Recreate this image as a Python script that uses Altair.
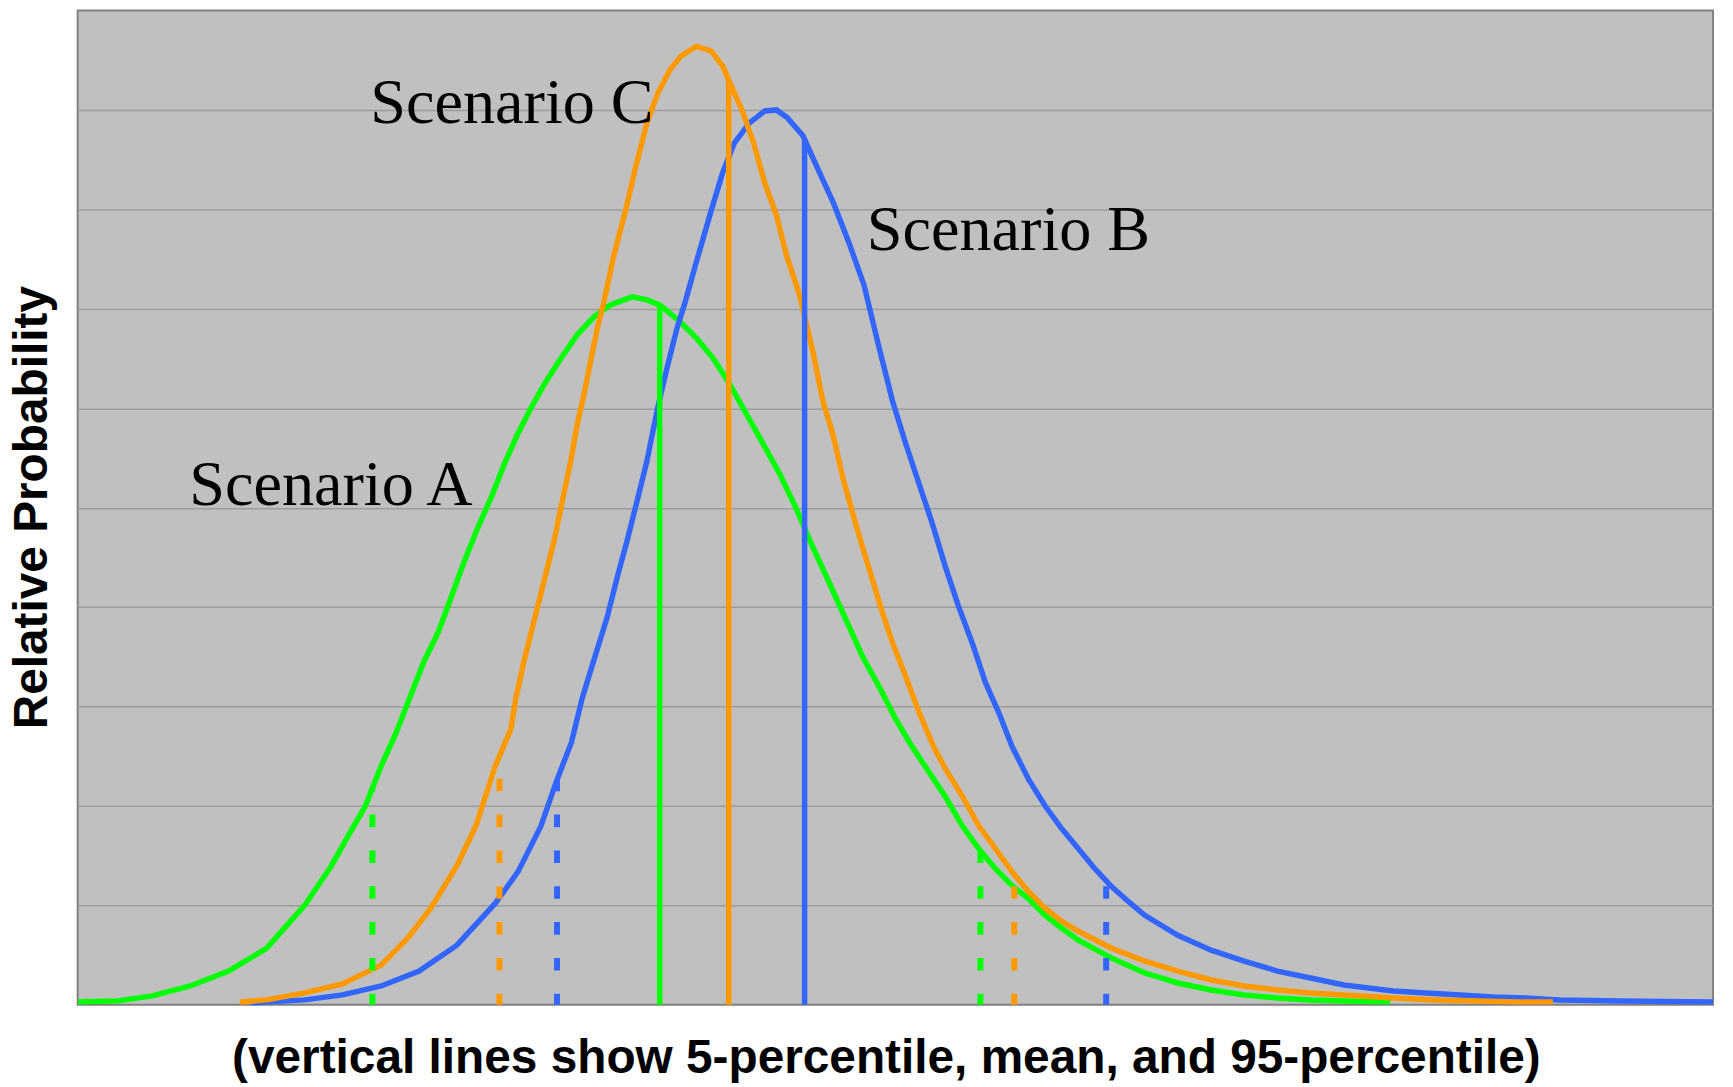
import altair as alt
import pandas as pd

# ---- curve data (x in arbitrary units 0-100, y relative probability 0-10) ----
A_x = [0.03, 2.47, 4.56, 6.88, 9.23, 11.56, 13.88, 15.52, 16.68, 17.59, 18.55, 19.48, 20.31, 21.22,
       22.03, 22.84, 23.66, 24.47, 25.28, 26.09, 26.90, 27.71, 28.53, 29.54, 30.55, 31.57, 32.58,
       33.90, 34.81, 35.59, 36.84, 37.86, 38.87, 39.88, 40.90, 41.92, 42.93, 43.94, 44.96, 45.97,
       46.99, 48.00, 49.01, 50.03, 51.05, 53.07, 54.09, 55.10, 56.12, 57.13, 58.14, 59.16, 60.18,
       61.19, 63.22, 65.25, 67.27, 69.31, 71.33, 73.36, 75.39, 77.42, 80.26]
A_y = [0.03, 0.04, 0.09, 0.19, 0.34, 0.57, 1.00, 1.40, 1.74, 2.00, 2.40, 2.74, 3.09, 3.47,
       3.74, 4.10, 4.47, 4.80, 5.10, 5.44, 5.74, 6.00, 6.24, 6.50, 6.74, 6.92, 7.04,
       7.12, 7.09, 7.04, 6.87, 6.70, 6.50, 6.24, 5.94, 5.64, 5.34, 4.99, 4.60, 4.24,
       3.87, 3.50, 3.20, 2.87, 2.59, 2.09, 1.80, 1.57, 1.37, 1.20, 1.07, 0.90, 0.77,
       0.65, 0.47, 0.32, 0.22, 0.15, 0.10, 0.07, 0.05, 0.04, 0.03]

B_x = [10.63, 13.88, 16.19, 18.56, 20.88, 23.19, 25.53, 26.93, 28.33, 29.26, 30.19, 30.86, 31.57,
       32.38, 32.99, 33.60, 34.21, 34.81, 35.42, 36.03, 36.64, 37.15, 37.83, 38.76, 39.44, 40.16,
       41.08, 42.02, 42.73, 43.40, 44.35, 45.28, 46.20, 47.15, 48.08, 48.99, 49.83, 50.64, 51.45,
       52.26, 53.07, 53.88, 54.70, 55.51, 56.32, 57.13, 58.14, 59.16, 60.18, 61.19, 62.20, 63.22,
       64.24, 65.25, 67.27, 69.31, 71.33, 73.36, 75.39, 77.42, 80.46, 82.47, 84.52, 86.55, 88.56,
       90.61, 94.26, 100.0]
B_y = [0.02, 0.05, 0.10, 0.19, 0.34, 0.60, 1.02, 1.34, 1.80, 2.24, 2.64, 3.09, 3.47,
       3.90, 4.30, 4.67, 5.07, 5.47, 5.97, 6.40, 6.80, 7.07, 7.47, 8.00, 8.37, 8.67,
       8.87, 8.99, 9.00, 8.92, 8.74, 8.40, 8.07, 7.67, 7.24, 6.62, 6.07, 5.64, 5.24,
       4.84, 4.40, 4.00, 3.64, 3.24, 2.94, 2.60, 2.27, 2.00, 1.77, 1.57, 1.37, 1.19,
       1.04, 0.90, 0.70, 0.55, 0.44, 0.34, 0.27, 0.20, 0.14, 0.12, 0.10, 0.08, 0.07,
       0.05, 0.04, 0.03]

C_x = [9.92, 11.56, 13.88, 16.19, 18.56, 20.18, 21.58, 23.19, 24.35, 25.53, 26.48, 26.80, 27.31,
       27.92, 28.53, 29.14, 29.64, 30.15, 30.55, 30.96, 31.36, 31.77, 32.18, 32.79, 33.52, 34.08,
       34.81, 35.48, 36.20, 36.88, 37.83, 38.76, 39.44, 39.81, 40.62, 41.33, 42.00, 42.73, 43.34,
       44.14, 44.96, 45.57, 46.18, 46.79, 47.40, 48.00, 48.61, 49.22, 49.83, 50.64, 51.45, 52.36,
       53.07, 54.09, 55.10, 56.12, 57.13, 58.14, 59.16, 60.18, 61.19, 63.22, 65.25, 67.27, 69.31,
       71.33, 73.36, 75.39, 77.42, 80.46, 83.08, 87.95, 90.20]
C_y = [0.03, 0.05, 0.12, 0.21, 0.40, 0.67, 0.97, 1.40, 1.80, 2.40, 2.77, 3.09, 3.47,
       3.87, 4.27, 4.67, 5.07, 5.47, 5.84, 6.14, 6.47, 6.80, 7.07, 7.54, 8.00, 8.40,
       8.87, 9.17, 9.40, 9.54, 9.64, 9.59, 9.44, 9.30, 9.00, 8.67, 8.27, 7.94, 7.54,
       7.14, 6.57, 6.07, 5.74, 5.30, 4.94, 4.60, 4.27, 3.94, 3.64, 3.30, 2.94, 2.59,
       2.37, 2.10, 1.80, 1.57, 1.34, 1.14, 0.97, 0.84, 0.74, 0.57, 0.44, 0.34, 0.25,
       0.19, 0.15, 0.12, 0.10, 0.07, 0.05, 0.03, 0.03]

# ---- 5-percentile, mean, 95-percentile positions and heights ----
stat_kind = ["p5", "mean", "p95"]
A_stat_x = [18.02, 35.59, 55.20]
A_stat_h = [2.18, 7.04, 1.55]
B_stat_x = [29.31, 44.45, 62.89]
B_stat_h = [2.26, 8.71, 1.22]
C_stat_x = [25.79, 39.81, 57.27]
C_stat_h = [2.50, 9.30, 1.32]

# ---- labels ----
label_text = ["Scenario A", "Scenario B", "Scenario C"]
label_x = [6.82, 48.25, 17.89]
label_y = [5.03, 7.59, 8.87]

scenarios = ["A", "B", "C"]
colors = ["#00FF00", "#3366FF", "#FF9900"]

curve_rows = []
for s, xs, ys in zip(scenarios, [A_x, B_x, C_x], [A_y, B_y, C_y]):
    for i, (x, y) in enumerate(zip(xs, ys)):
        curve_rows.append({"scenario": s, "x": x, "y": y, "order": i})
curves = pd.DataFrame(curve_rows)

stat_rows = []
for s, xs, hs in zip(scenarios, [A_stat_x, B_stat_x, C_stat_x], [A_stat_h, B_stat_h, C_stat_h]):
    for k, x, h in zip(stat_kind, xs, hs):
        stat_rows.append({"scenario": s, "kind": k, "x": x, "h": h, "base": 0.0})
stats = pd.DataFrame(stat_rows)

labels = pd.DataFrame({"text": label_text, "x": label_x, "y": label_y})

xscale = alt.Scale(domain=[0, 100], nice=False, zero=False)
yscale = alt.Scale(domain=[0, 10], nice=False)
cscale = alt.Scale(domain=scenarios, range=colors)

x_axis = alt.Axis(
    title="(vertical lines show 5-percentile, mean, and 95-percentile)",
    labels=False, ticks=False, domain=False, grid=False,
    titleFont="Liberation Sans", titleFontSize=48, titleFontWeight="bold",
    titleColor="black", titleX=812, titleY=68, titleAlign="center",
    titleBaseline="alphabetic",
)
y_axis = alt.Axis(
    title="Relative Probability",
    labels=False, ticks=False, domain=False, grid=True,
    values=[1, 2, 3, 4, 5, 6, 7, 8, 9],
    gridColor="#9C9C9C", gridWidth=1.5, gridOpacity=1,
    titleFont="Liberation Sans", titleFontSize=48, titleFontWeight="bold",
    titleColor="black", titleAngle=270, titleX=-31, titleY=499,
    titleAlign="center", titleBaseline="alphabetic",
)

lines = alt.Chart(curves).mark_line(strokeWidth=5.5, interpolate="linear").encode(
    x=alt.X("x:Q", scale=xscale, axis=x_axis),
    y=alt.Y("y:Q", scale=yscale, axis=y_axis),
    color=alt.Color("scenario:N", scale=cscale, legend=None),
    order="order:Q",
    detail="scenario:N",
)

dashed = alt.Chart(stats).transform_filter(alt.datum.kind != "mean").mark_rule(
    strokeWidth=6, strokeDash=[12.7, 23.3], strokeDashOffset=1.5
).encode(
    x=alt.X("x:Q", scale=xscale),
    y=alt.Y("base:Q", scale=yscale),
    y2="h:Q",
    color=alt.Color("scenario:N", scale=cscale, legend=None),
)

solid = alt.Chart(stats).transform_filter(alt.datum.kind == "mean").mark_rule(
    strokeWidth=5.5
).encode(
    x=alt.X("x:Q", scale=xscale),
    y=alt.Y("base:Q", scale=yscale),
    y2="h:Q",
    color=alt.Color("scenario:N", scale=cscale, legend=None),
)

text = alt.Chart(labels).mark_text(
    font="Liberation Serif", fontSize=64.5, align="left", baseline="alphabetic", color="black"
).encode(
    x=alt.X("x:Q", scale=xscale),
    y=alt.Y("y:Q", scale=yscale),
    text="text:N",
)

chart = alt.layer(lines, dashed, solid, text).properties(
    width=1643, height=999,
    autosize=alt.AutoSizeParams(type="none"),
    padding={"left": 70, "top": 0, "right": 12, "bottom": 80},
).configure(
    background="white",
    view=alt.ViewConfig(fill="#C0C0C0", stroke="#808080", strokeWidth=2),
)

chart.save("out.html", embed_options={"renderer": "svg", "actions": False})
